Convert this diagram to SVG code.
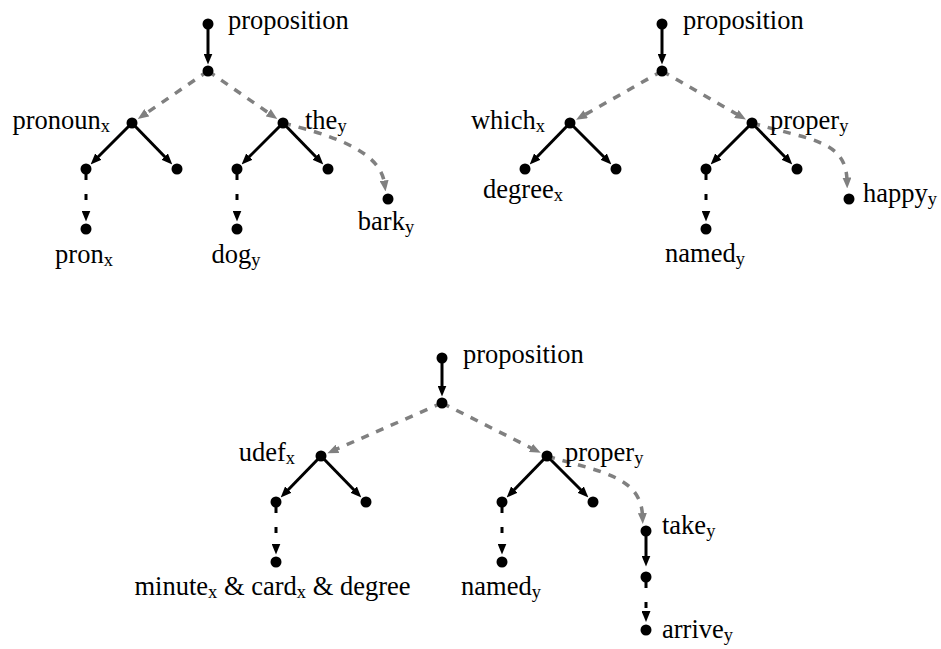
<svg xmlns="http://www.w3.org/2000/svg" width="941" height="649" viewBox="0 0 941 649">
<style>
.dot{fill:#000}
.lbl{font-family:"Liberation Serif","Times New Roman",serif;font-size:26.5px;fill:#000}
.sub{font-size:18.5px}
.solid{stroke:#000;stroke-width:3;fill:none;marker-end:url(#ab)}
.dash{stroke:#000;stroke-width:3;fill:none;stroke-dasharray:11 14 6 30;marker-end:url(#ab)}
.gray{stroke:#808080;stroke-width:3.5;fill:none;stroke-dasharray:8 8;marker-end:url(#ag)}
</style>
<defs>
<marker id="ab" markerWidth="11" markerHeight="9" refX="3" refY="4.5" orient="auto" markerUnits="userSpaceOnUse"><path d="M0,0 L11,4.5 L0,9 z" fill="#000"/></marker>
<marker id="ag" markerWidth="11" markerHeight="9" refX="3" refY="4.5" orient="auto" markerUnits="userSpaceOnUse"><path d="M0,0 L11,4.5 L0,9 z" fill="#808080"/></marker>
</defs>
<rect width="941" height="649" fill="#fff"/>
<g id="connectors">
<!-- tree 1 -->
<path class="solid" d="M208,24 L208,56.5"/>
<path class="gray" d="M208,71 L144.4,114.5"/>
<path class="gray" d="M208,71 L270.7,114.4"/>
<path class="solid" d="M132,123 L96.25,158.75"/>
<path class="solid" d="M132,123 L166.75,158.75"/>
<path class="dash" d="M86,169 L86,213.5"/>
<path class="solid" d="M283,123 L247.25,158.75"/>
<path class="solid" d="M283,123 L317.75,158.75"/>
<path class="dash" d="M237,169 L237,213.5"/>
<path class="gray" d="M283,123 C330,135 380,150 384.5,183.5"/>
<!-- tree 2 -->
<path class="solid" d="M662,24 L662,56.5"/>
<path class="gray" d="M662,71 L583.1,115.7"/>
<path class="gray" d="M662,71 L739,115.5"/>
<path class="solid" d="M570,123 L535.25,158.75"/>
<path class="solid" d="M570,123 L605.75,158.75"/>
<path class="solid" d="M752,123 L716.25,158.75"/>
<path class="solid" d="M752,123 L786.75,158.75"/>
<path class="dash" d="M706,169 L706,213.5"/>
<path class="gray" d="M752,123 C810,140 846,140 847,180.5"/>
<!-- tree 3 -->
<path class="solid" d="M442,358 L442,388.5"/>
<path class="gray" d="M442,403 L334.7,450"/>
<path class="gray" d="M442,403 L533.6,449.2"/>
<path class="solid" d="M321,456 L286.25,491.75"/>
<path class="solid" d="M321,456 L355.75,491.75"/>
<path class="dash" d="M276,502 L276,546.5"/>
<path class="solid" d="M547,456 L512.25,491.75"/>
<path class="solid" d="M547,456 L582.75,491.75"/>
<path class="dash" d="M502,502 L502,546.5"/>
<path class="gray" d="M547,456 C600,472 641,476 642.5,516"/>
<path class="solid" d="M646,531 L646,558.5"/>
<path class="dash" d="M646,577 L646,614"/>
</g>
<!-- tree 1 nodes -->
<g id="t1-prop"><circle class="dot" cx="208" cy="24" r="5.5"/><text class="lbl" x="228" y="29">proposition</text></g>
<g id="t1-conj"><circle class="dot" cx="208" cy="71" r="5.5"/></g>
<g id="t1-pronoun"><circle class="dot" cx="132" cy="123" r="5.5"/><text class="lbl" x="110" y="129" text-anchor="end">pronoun<tspan class="sub" dy="3">x</tspan></text></g>
<g id="t1-pronoun-rstr"><circle class="dot" cx="86" cy="169" r="5.5"/></g>
<g id="t1-pronoun-body"><circle class="dot" cx="177" cy="169" r="5.5"/></g>
<g id="t1-pron"><circle class="dot" cx="86" cy="229" r="5.5"/><text class="lbl" x="84" y="263" text-anchor="middle">pron<tspan class="sub" dy="3">x</tspan></text></g>
<g id="t1-the"><circle class="dot" cx="283" cy="123" r="5.5"/><text class="lbl" x="305" y="129">the<tspan class="sub" dy="3">y</tspan></text></g>
<g id="t1-the-rstr"><circle class="dot" cx="237" cy="169" r="5.5"/></g>
<g id="t1-the-body"><circle class="dot" cx="328" cy="169" r="5.5"/></g>
<g id="t1-dog"><circle class="dot" cx="237" cy="229" r="5.5"/><text class="lbl" x="236" y="263" text-anchor="middle">dog<tspan class="sub" dy="3">y</tspan></text></g>
<g id="t1-bark"><circle class="dot" cx="388" cy="199" r="5.5"/><text class="lbl" x="386" y="230" text-anchor="middle">bark<tspan class="sub" dy="3">y</tspan></text></g>
<!-- tree 2 nodes -->
<g id="t2-prop"><circle class="dot" cx="662" cy="24" r="5.5"/><text class="lbl" x="683" y="29">proposition</text></g>
<g id="t2-conj"><circle class="dot" cx="662" cy="71" r="5.5"/></g>
<g id="t2-which"><circle class="dot" cx="570" cy="123" r="5.5"/><text class="lbl" x="545" y="129" text-anchor="end">which<tspan class="sub" dy="3">x</tspan></text></g>
<g id="t2-degree"><circle class="dot" cx="525" cy="169" r="5.5"/><text class="lbl" x="523" y="198" text-anchor="middle">degree<tspan class="sub" dy="3">x</tspan></text></g>
<g id="t2-which-body"><circle class="dot" cx="616" cy="169" r="5.5"/></g>
<g id="t2-proper"><circle class="dot" cx="752" cy="123" r="5.5"/><text class="lbl" x="770" y="129">proper<tspan class="sub" dy="3">y</tspan></text></g>
<g id="t2-proper-rstr"><circle class="dot" cx="706" cy="169" r="5.5"/></g>
<g id="t2-proper-body"><circle class="dot" cx="797" cy="169" r="5.5"/></g>
<g id="t2-named"><circle class="dot" cx="706" cy="229" r="5.5"/><text class="lbl" x="705" y="262" text-anchor="middle">named<tspan class="sub" dy="3">y</tspan></text></g>
<g id="t2-happy"><circle class="dot" cx="849" cy="199" r="5.5"/><text class="lbl" x="863" y="202">happy<tspan class="sub" dy="3">y</tspan></text></g>
<!-- tree 3 nodes -->
<g id="t3-prop"><circle class="dot" cx="442" cy="358" r="5.5"/><text class="lbl" x="463" y="363">proposition</text></g>
<g id="t3-conj"><circle class="dot" cx="442" cy="403" r="5.5"/></g>
<g id="t3-udef"><circle class="dot" cx="321" cy="456" r="5.5"/><text class="lbl" x="295" y="461" text-anchor="end">udef<tspan class="sub" dy="3">x</tspan></text></g>
<g id="t3-udef-rstr"><circle class="dot" cx="276" cy="502" r="5.5"/></g>
<g id="t3-udef-body"><circle class="dot" cx="366" cy="502" r="5.5"/></g>
<g id="t3-minute"><circle class="dot" cx="276" cy="562" r="5.5"/><text class="lbl" x="272.5" y="595" text-anchor="middle">minute<tspan class="sub" dy="3">x</tspan><tspan dy="-3"> &amp; card</tspan><tspan class="sub" dy="3">x</tspan><tspan dy="-3"> &amp; degree</tspan></text></g>
<g id="t3-proper"><circle class="dot" cx="547" cy="456" r="5.5"/><text class="lbl" x="565" y="461">proper<tspan class="sub" dy="3">y</tspan></text></g>
<g id="t3-proper-rstr"><circle class="dot" cx="502" cy="502" r="5.5"/></g>
<g id="t3-proper-body"><circle class="dot" cx="593" cy="502" r="5.5"/></g>
<g id="t3-named"><circle class="dot" cx="502" cy="562" r="5.5"/><text class="lbl" x="501" y="595" text-anchor="middle">named<tspan class="sub" dy="3">y</tspan></text></g>
<g id="t3-take"><circle class="dot" cx="646" cy="531" r="5.5"/><text class="lbl" x="662" y="534">take<tspan class="sub" dy="3">y</tspan></text></g>
<g id="t3-take-arg"><circle class="dot" cx="646" cy="577" r="5.5"/></g>
<g id="t3-arrive"><circle class="dot" cx="646" cy="630" r="5.5"/><text class="lbl" x="662" y="638">arrive<tspan class="sub" dy="3">y</tspan></text></g>
</svg>
